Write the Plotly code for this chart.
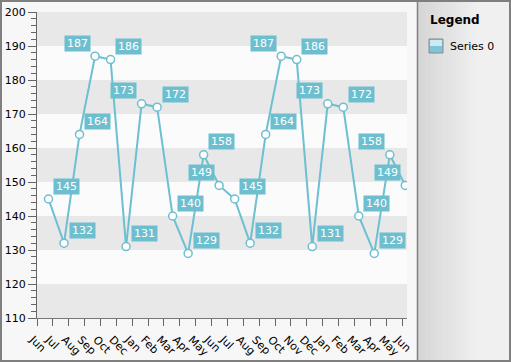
import plotly.graph_objects as go
from datetime import datetime, timedelta

# ---------------- data ----------------
series_name = "Series 0"
legend_title = "Legend"
dates = ["2009-07-19", "2009-08-19", "2009-09-19", "2009-10-20", "2009-11-20", "2009-12-21",
         "2010-01-21", "2010-02-21", "2010-03-24", "2010-04-24", "2010-05-25", "2010-06-25",
         "2010-07-26", "2010-08-26", "2010-09-26", "2010-10-27", "2010-11-27", "2010-12-28",
         "2011-01-28", "2011-02-28", "2011-03-31", "2011-05-01", "2011-06-01", "2011-07-02"]
values = [145, 132, 164, 187, 186, 131, 173, 172, 140, 129, 158, 149,
          145, 132, 164, 187, 186, 131, 173, 172, 140, 129, 158, 149]
tick_labels = ["Jun", "Jul", "Aug", "Sep", "Oct", "Dec", "Jan", "Feb", "Mar", "Apr", "May", "Jun",
               "Jul", "Aug", "Sep", "Oct", "Nov", "Dec", "Jan", "Feb", "Mar", "Apr", "May", "Jun"]
y_min, y_max, y_step = 110, 200, 10

# ---------------- layout constants ----------------
W, H = 511, 362
L, R, T, B = 37, 104, 12, 44
pw, ph = W - L - R, H - T - B

axis_start = datetime(2009, 6, 26)
tick_step_days = 31.72
axis_span_days = 739.4
axis_end = axis_start + timedelta(days=axis_span_days)
tickvals = [axis_start + timedelta(days=tick_step_days * k) for k in range(len(tick_labels))]

series_color = "#6dbfd1"
label_bg = "#6dbfd0"
band_color = "#e8e8e8"
font_family = "DejaVu Sans"
left_label_points = {3, 6, 11, 15, 18, 22, 23}  # label placement (style)


def px_x(px):
    return (px - L) / pw


def py_y(py):
    return (H - B - py) / ph


fig = go.Figure()
fig.add_trace(go.Scatter(
    x=dates, y=values, mode="lines+markers", name=series_name,
    line=dict(color=series_color, width=2),
    marker=dict(size=8, color="white", line=dict(color=series_color, width=1.5)),
    cliponaxis=True, showlegend=False,
))

shapes = []
# alternating bands
for lo in range(y_min, y_max, 2 * y_step):
    shapes.append(dict(type="rect", xref="x", yref="y", x0=axis_start, x1=axis_end,
                       y0=lo, y1=lo + y_step, fillcolor=band_color, line=dict(width=0),
                       layer="below"))

# legend panel gradient
x_left, x_grad_end, x_right = 417.5, 478, 509.5
n = 14
c0, c1 = 0xd6, 0xf0
for k in range(n):
    a = x_left + (x_grad_end - x_left) * k / n
    b = x_left + (x_grad_end - x_left) * (k + 1) / n + 0.5
    c = int(c0 + (c1 - c0) * (k + 0.5) / n)
    shapes.append(dict(type="rect", xref="paper", yref="paper",
                       x0=px_x(a), x1=px_x(b), y0=py_y(360), y1=py_y(1.5),
                       fillcolor="#%02x%02x%02x" % (c, c, c), line=dict(width=0), layer="below"))
shapes.append(dict(type="rect", xref="paper", yref="paper",
                   x0=px_x(x_grad_end), x1=px_x(x_right), y0=py_y(360), y1=py_y(1.5),
                   fillcolor="#f0f0f0", line=dict(width=0), layer="below"))
# panel left border
shapes.append(dict(type="line", xref="paper", yref="paper",
                   x0=px_x(417.5), x1=px_x(417.5), y0=py_y(361), y1=py_y(1),
                   line=dict(color="#7f7f7f", width=1.5), layer="below"))
# outer border
shapes.append(dict(type="rect", xref="paper", yref="paper",
                   x0=px_x(1), x1=px_x(510), y0=py_y(361), y1=py_y(1),
                   line=dict(color="#7f7f7f", width=2), layer="below"))

# legend icon
ix0, ix1, iy0, iy1 = 429, 443, 39, 53
shapes.append(dict(type="rect", xref="paper", yref="paper",
                   x0=px_x(ix0), x1=px_x(ix1), y0=py_y(iy1), y1=py_y(iy0),
                   fillcolor="#80c5d6", line=dict(color="#8a8a8a", width=1), layer="below"))
shapes.append(dict(type="rect", xref="paper", yref="paper",
                   x0=px_x(ix0 + 1), x1=px_x(ix1 - 1), y0=py_y((iy0 + iy1) / 2), y1=py_y(iy0 + 1),
                   fillcolor="#cde9f1", line=dict(width=0), layer="below"))

annotations = []
for i, (d, v) in enumerate(zip(dates, values)):
    left = i in left_label_points
    annotations.append(dict(
        x=d, y=v, xref="x", yref="y", text=str(v), showarrow=False,
        xshift=-18 if left else 18, yshift=13,
        bgcolor=label_bg, borderpad=1, width=23, height=13,
        font=dict(family=font_family, size=11, color="white"),
    ))

annotations.append(dict(x=px_x(428), y=py_y(20), xref="paper", yref="paper",
                        text="<b>%s</b>" % legend_title, showarrow=False,
                        xanchor="left", yanchor="middle",
                        font=dict(family=font_family, size=12, color="#000")))
annotations.append(dict(x=px_x(448), y=py_y(46), xref="paper", yref="paper",
                        text=series_name, showarrow=False,
                        xanchor="left", yanchor="middle",
                        font=dict(family=font_family, size=11, color="#000")))

fig.update_layout(
    width=W, height=H, autosize=False,
    margin=dict(l=L, r=R, t=T, b=B, pad=0),
    paper_bgcolor="#f7f7f7", plot_bgcolor="#fbfbfb",
    font=dict(family=font_family, size=11, color="#000"),
    shapes=shapes, annotations=annotations, showlegend=False,
    xaxis=dict(type="date", range=[axis_start, axis_end],
               tickmode="array", tickvals=tickvals, ticktext=tick_labels,
               tickangle=45, ticks="outside", ticklen=7, tickcolor="#666",
               showline=True, linecolor="#777", linewidth=1,
               showgrid=False, zeroline=False, ticklabelshift=-4, ticklabelstandoff=3,
               automargin=False,
               tickfont=dict(family=font_family, size=11, color="#000")),
    yaxis=dict(range=[y_min, y_max], tickmode="linear", tick0=y_min, dtick=y_step,
               ticks="outside", ticklen=8, tickcolor="#666",
               minor=dict(dtick=2, ticks="outside", ticklen=5, tickcolor="#666", showgrid=False),
               showline=True, linecolor="#666", linewidth=1,
               showgrid=False, zeroline=False, automargin=False,
               tickfont=dict(family=font_family, size=11, color="#000")),
)

fig.write_html(
    "out.html",
    config={"displayModeBar": False},
    post_script="document.body.style.margin='0';document.body.style.overflow='hidden';",
)
